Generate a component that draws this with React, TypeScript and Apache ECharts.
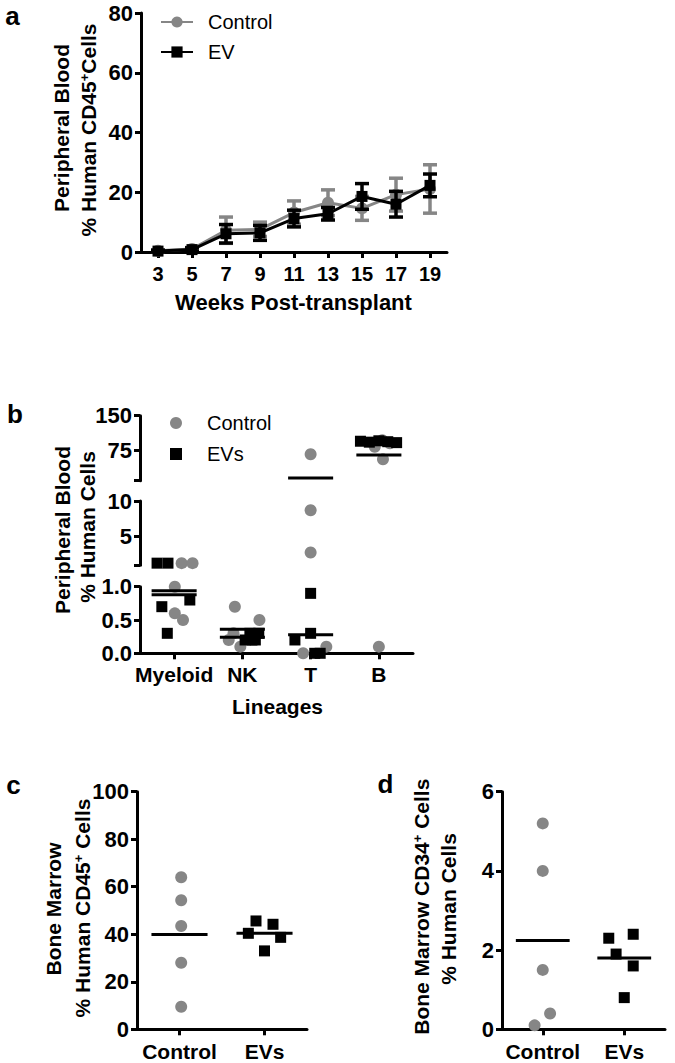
import React, { useEffect, useRef } from 'react';
import * as echarts from 'echarts';

const GRAY = '#868686';
const BLACK = '#000000';
const FF = '"Liberation Sans", Arial, Helvetica, sans-serif';

// ---------- Panel a ----------
const weeks = ['3', '5', '7', '9', '11', '13', '15', '17', '19'];
const controlMean = [0.4, 1.0, 7.3, 7.6, 13.2, 16.5, 14.6, 19.2, 21.1];
const controlErr = [0.3, 0.5, 4.4, 2.4, 3.9, 4.3, 4.0, 5.5, 8.1];
const evMean = [0.3, 0.8, 6.1, 6.4, 11.2, 12.8, 18.6, 16.0, 22.3];
const evErr = [0.3, 0.6, 3.1, 2.5, 2.8, 2.1, 4.3, 4.3, 3.8];

// ---------- Panel b ----------
const lineages = ['Myeloid', 'NK', 'T', 'B'];
const segments = [[0, 1], [1, 10], [10, 150]];
const segTicks = [[0, 0.5, 1], [1, 5, 10], [10, 75, 150]];
const segLabels = [[0, 0.5, 1], [5, 10], [75, 150]];
const bControl = [
  [1.3, 1.3, 1.0, 0.6, 0.5],
  [0.7, 0.5, 0.3, 0.2, 0.1],
  [67, 8.7, 2.8, 0, 0.1],
  [97, 90.6, 83, 56, 0.1],
];
const bControlJitter = [
  [0.11, 0.27, 0.01, 0.01, 0.13],
  [-0.11, 0.25, -0.13, -0.2, -0.03],
  [0, 0, 0, -0.11, 0.23],
  [0.05, 0.16, -0.06, 0.06, 0],
];
const bEVs = [
  [1.3, 1.3, 0.8, 0.7, 0.3],
  [0.3, 0.3, 0.2, 0.2, 0.2],
  [0.9, 0.3, 0.2, 0, 0],
  [95, 93, 96, 94, 92],
];
const bEVsJitter = [
  [-0.25, -0.09, 0.23, -0.18, -0.1],
  [0.11, 0.24, 0.04, 0.14, 0.19],
  [0, 0, -0.23, 0.06, 0.14],
  [-0.27, -0.14, 0, 0.13, 0.26],
];

// ---------- Panels c, d ----------
const groups = ['Control', 'EVs'];
const cControl = [64, 54.3, 43.5, 28, 9.5];
const cControlJitter = [0.02, 0.02, 0.02, 0.02, 0.02];
const cEVs = [45.6, 44.2, 40.4, 38.7, 33];
const cEVsJitter = [-0.1, 0.1, -0.19, 0.19, 0];
const dControl = [5.2, 4.0, 1.5, 0.4, 0.1];
const dControlJitter = [0, 0, 0, 0.09, -0.1];
const dEVs = [2.3, 2.4, 1.9, 1.6, 0.8];
const dEVsJitter = [-0.19, 0.11, -0.1, 0.11, 0];

const mean = (a: number[]) => a.reduce((s, v) => s + v, 0) / a.length;
const segOf = (v: number) => (v <= segments[0][1] ? 0 : v <= segments[1][1] ? 1 : 2);

const axisLine = { show: true, onZero: false, lineStyle: { color: BLACK, width: 3 } };
const axisTick = { show: true, length: 6, lineStyle: { color: BLACK, width: 3 } };
const lbl = { color: BLACK, fontFamily: FF, fontWeight: 'bold', fontSize: 22 };

const errorRender = (color: string) => (params: any, api: any) => {
  const i = api.value(0);
  const top = api.coord([i, api.value(2)]);
  const bot = api.coord([i, api.value(1)]);
  const hw = 7;
  const style = { stroke: color, lineWidth: 3.5 };
  return {
    type: 'group',
    children: [
      { type: 'line', shape: { x1: top[0], y1: top[1], x2: bot[0], y2: bot[1] }, style },
      { type: 'line', shape: { x1: top[0] - hw, y1: top[1], x2: top[0] + hw, y2: top[1] }, style },
      { type: 'line', shape: { x1: bot[0] - hw, y1: bot[1], x2: bot[0] + hw, y2: bot[1] }, style },
    ],
  };
};

const meanRender = (params: any, api: any) => {
  const x = api.value(0);
  const m = api.value(1);
  const a = api.coord([x - 0.33, m]);
  const b = api.coord([x + 0.33, m]);
  return {
    type: 'line',
    shape: { x1: a[0], y1: a[1], x2: b[0], y2: b[1] },
    style: { stroke: BLACK, lineWidth: 3 },
  };
};

const richBase = { fontFamily: FF, fontWeight: 'bold', fontSize: 21, fill: BLACK };

const vText = (x: number, y: number, text: string) => ({
  type: 'text',
  x,
  y,
  rotation: Math.PI / 2,
  style: { ...richBase, text, align: 'center', verticalAlign: 'middle' },
});

const vTextSup = (x: number, y: number, pre: string, sup: string, post: string) => ({
  type: 'text',
  x,
  y,
  rotation: Math.PI / 2,
  style: {
    ...richBase,
    text: `{n|${pre}}{s|${sup}}{n|${post}}`,
    align: 'center',
    verticalAlign: 'middle',
    rich: {
      n: { fontFamily: FF, fontWeight: 'bold', fontSize: 21, fill: BLACK, color: BLACK },
      s: { fontFamily: FF, fontWeight: 'bold', fontSize: 13, fill: BLACK, color: BLACK, verticalAlign: 'top' },
    },
  },
});

const hText = (x: number, y: number, text: string, size = 21) => ({
  type: 'text',
  x,
  y,
  style: { ...richBase, fontSize: size, text, align: 'center', verticalAlign: 'middle' },
});

function buildOption() {
  const scatterB: any[] = [];
  const meansB: any[][] = [[], [], []];
  for (let s = 0; s < 3; s++) {
    const ctrl: number[][] = [];
    const ev: number[][] = [];
    lineages.forEach((_, i) => {
      bControl[i].forEach((v, k) => {
        if (segOf(v) === s) ctrl.push([i + bControlJitter[i][k], v]);
      });
      bEVs[i].forEach((v, k) => {
        if (segOf(v) === s) ev.push([i + bEVsJitter[i][k], v]);
      });
    });
    scatterB.push({
      type: 'scatter', name: 'Control', xAxisIndex: 1 + s, yAxisIndex: 1 + s,
      data: ctrl, symbol: 'circle', symbolSize: 12, itemStyle: { color: GRAY, opacity: 1 }, clip: false, z: 3,
    });
    scatterB.push({
      type: 'scatter', name: 'EVs', xAxisIndex: 1 + s, yAxisIndex: 1 + s,
      data: ev, symbol: 'rect', symbolSize: 11, itemStyle: { color: BLACK, opacity: 1 }, clip: false, z: 4,
    });
  }
  lineages.forEach((_, i) => {
    const mc = mean(bControl[i]);
    const me = mean(bEVs[i]);
    meansB[segOf(mc)].push([i, mc]);
    meansB[segOf(me)].push([i, me]);
  });

  const grid = [
    { left: 141, top: 13, width: 306, height: 239 },
    { left: 140, top: 586.7, width: 273, height: 66.6 },
    { left: 140, top: 501, width: 273, height: 64.3 },
    { left: 140, top: 415.7, width: 273, height: 65 },
    { left: 137, top: 791.7, width: 170, height: 237.6 },
    { left: 502, top: 791.7, width: 163, height: 237.6 },
  ].map((g) => ({ ...g, containLabel: false, outerBoundsMode: 'none' }));

  const xAxis: any[] = [
    {
      gridIndex: 0, type: 'category', data: weeks, boundaryGap: true,
      axisLine, axisTick: { ...axisTick, alignWithLabel: true, interval: 0 },
      axisLabel: { ...lbl, fontSize: 20, margin: 12, interval: 0 }, splitLine: { show: false },
    },
    {
      gridIndex: 1, type: 'value', min: -0.5, max: 3.5,
      axisLine, axisTick: { ...axisTick, customValues: [0, 1, 2, 3] },
      axisLabel: { ...lbl, fontSize: 21, margin: 11, customValues: [0, 1, 2, 3], formatter: (v: number) => lineages[Math.round(v)] },
      splitLine: { show: false },
    },
    { gridIndex: 2, type: 'value', min: -0.5, max: 3.5, show: false },
    { gridIndex: 3, type: 'value', min: -0.5, max: 3.5, show: false },
    {
      gridIndex: 4, type: 'value', min: -0.5, max: 1.5,
      axisLine, axisTick: { ...axisTick, customValues: [0, 1] },
      axisLabel: { ...lbl, fontSize: 21, margin: 12, customValues: [0, 1], formatter: (v: number) => groups[Math.round(v)] },
      splitLine: { show: false },
    },
    {
      gridIndex: 5, type: 'value', min: -0.5, max: 1.5,
      axisLine, axisTick: { ...axisTick, customValues: [0, 1] },
      axisLabel: { ...lbl, fontSize: 21, margin: 12, customValues: [0, 1], formatter: (v: number) => groups[Math.round(v)] },
      splitLine: { show: false },
    },
  ];

  const yAxis: any[] = [
    { gridIndex: 0, type: 'value', min: 0, max: 80, interval: 20, axisLine, axisTick, axisLabel: { ...lbl, margin: 8 }, splitLine: { show: false } },
    ...segments.map((seg, s) => ({
      gridIndex: 1 + s, type: 'value', min: seg[0], max: seg[1],
      axisLine,
      axisTick: { ...axisTick, customValues: segTicks[s] },
      axisLabel: {
        ...lbl, margin: 8, customValues: segLabels[s],
        formatter: (v: number) => (s === 0 ? v.toFixed(1) : String(v)),
      },
      splitLine: { show: false },
    })),
    { gridIndex: 4, type: 'value', min: 0, max: 100, interval: 20, axisLine, axisTick, axisLabel: { ...lbl, margin: 8 }, splitLine: { show: false } },
    { gridIndex: 5, type: 'value', min: 0, max: 6, interval: 2, axisLine, axisTick, axisLabel: { ...lbl, margin: 8 }, splitLine: { show: false } },
  ];

  const series: any[] = [
    {
      type: 'line', name: 'Control', xAxisIndex: 0, yAxisIndex: 0, data: controlMean,
      symbol: 'circle', symbolSize: 12, lineStyle: { color: GRAY, width: 3 }, itemStyle: { color: GRAY, opacity: 1 }, z: 3,
    },
    {
      type: 'line', name: 'EV', xAxisIndex: 0, yAxisIndex: 0, data: evMean,
      symbol: 'rect', symbolSize: 11, lineStyle: { color: BLACK, width: 3 }, itemStyle: { color: BLACK, opacity: 1 }, z: 5,
    },
    {
      type: 'custom', name: 'Control SEM', xAxisIndex: 0, yAxisIndex: 0, z: 2,
      data: weeks.map((_, i) => [i, Math.max(0, controlMean[i] - controlErr[i]), controlMean[i] + controlErr[i]]),
      renderItem: errorRender(GRAY),
    },
    {
      type: 'custom', name: 'EV SEM', xAxisIndex: 0, yAxisIndex: 0, z: 4,
      data: weeks.map((_, i) => [i, Math.max(0, evMean[i] - evErr[i]), evMean[i] + evErr[i]]),
      renderItem: errorRender(BLACK),
    },
    ...scatterB,
    ...meansB.map((d, s) => ({
      type: 'custom', name: 'mean b' + s, xAxisIndex: 1 + s, yAxisIndex: 1 + s, z: 6, data: d, renderItem: meanRender,
    })),
    {
      type: 'scatter', name: 'Control', xAxisIndex: 4, yAxisIndex: 4, symbol: 'circle', symbolSize: 12,
      itemStyle: { color: GRAY, opacity: 1 }, clip: false, data: cControl.map((v, k) => [0 + cControlJitter[k], v]),
    },
    {
      type: 'scatter', name: 'EVs', xAxisIndex: 4, yAxisIndex: 4, symbol: 'rect', symbolSize: 11,
      itemStyle: { color: BLACK, opacity: 1 }, clip: false, data: cEVs.map((v, k) => [1 + cEVsJitter[k], v]),
    },
    {
      type: 'custom', name: 'mean c', xAxisIndex: 4, yAxisIndex: 4, z: 6,
      data: [[0, mean(cControl)], [1, mean(cEVs)]], renderItem: meanRender,
    },
    {
      type: 'scatter', name: 'Control', xAxisIndex: 5, yAxisIndex: 5, symbol: 'circle', symbolSize: 12,
      itemStyle: { color: GRAY, opacity: 1 }, clip: false, data: dControl.map((v, k) => [0 + dControlJitter[k], v]),
    },
    {
      type: 'scatter', name: 'EVs', xAxisIndex: 5, yAxisIndex: 5, symbol: 'rect', symbolSize: 11,
      itemStyle: { color: BLACK, opacity: 1 }, clip: false, data: dEVs.map((v, k) => [1 + dEVsJitter[k], v]),
    },
    {
      type: 'custom', name: 'mean d', xAxisIndex: 5, yAxisIndex: 5, z: 6,
      data: [[0, mean(dControl)], [1, mean(dEVs)]], renderItem: meanRender,
    },
  ];

  const legendText = { color: BLACK, fontFamily: FF, fontSize: 20, lineHeight: 20 };
  const legend = [
    {
      left: 160, top: 12, padding: 0, orient: 'vertical', itemWidth: 32, itemHeight: 14, itemGap: 10,
      selectedMode: false, data: ['Control', 'EV'],
      textStyle: { ...legendText, padding: [0, 0, 0, 10] },
    },
    {
      left: 170, top: 413, padding: 0, orient: 'vertical', itemWidth: 12, itemHeight: 12, itemGap: 11,
      selectedMode: false,
      data: [
        { name: 'Control', icon: 'circle', itemStyle: { color: GRAY, opacity: 1 } },
        { name: 'EVs', icon: 'rect', itemStyle: { color: BLACK, opacity: 1 } },
      ],
      textStyle: { ...legendText, padding: [0, 0, 0, 20] },
    },
  ];

  const graphic = [
    hText(12.5, 16, 'a', 26),
    hText(15, 414, 'b', 26),
    hText(13.5, 785, 'c', 26),
    hText(385.5, 784, 'd', 26),
    vText(61, 128, 'Peripheral Blood'),
    vTextSup(88, 130, '% Human CD45', '+', 'Cells'),
    hText(293.5, 302, 'Weeks Post-transplant', 22),
    vText(62, 530, 'Peripheral Blood'),
    vText(87, 527, '% Human Cells'),
    hText(277.5, 706, 'Lineages', 21),
    vText(53, 909, 'Bone Marrow'),
    vTextSup(82, 908, '% Human CD45', '+', ' Cells'),
    vTextSup(421.7, 906.7, 'Bone Marrow CD34', '+', ' Cells'),
    vText(448.3, 909, '% Human Cells'),
  ];

  return {
    animation: false,
    backgroundColor: '#ffffff',
    grid,
    xAxis,
    yAxis,
    legend,
    series,
    graphic,
  };
}

export default function App() {
  const ref = useRef<HTMLDivElement>(null);
  useEffect(() => {
    if (!ref.current) return;
    const chart = echarts.init(ref.current, null, { renderer: 'svg' });
    chart.setOption(buildOption() as any);
    return () => chart.dispose();
  }, []);
  return (
    <div
      ref={ref}
      style={{ position: 'fixed', left: 0, top: 0, width: 675, height: 1063, background: '#fff' }}
    />
  );
}
